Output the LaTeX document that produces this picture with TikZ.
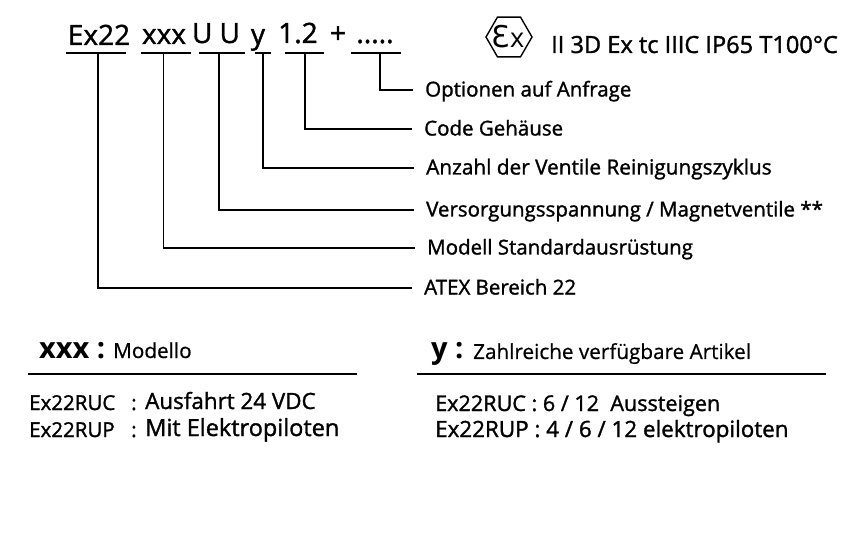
\documentclass[tikz,border=0pt]{standalone}
\usepackage{fontspec}
\setmainfont{Open Sans}
\newfontfamily\semifont[FakeBold=1.4]{Open Sans}
\newfontfamily\softfont[FakeBold=0.6]{Open Sans}
\newfontfamily\markfont{DejaVu Sans}
\usetikzlibrary{shapes.geometric}
\tikzset{
  token/.style={anchor=base,inner sep=0pt,font=\fontsize{28}{28}\semifont},
  callout/.style={anchor=west,inner sep=0pt,text height=17pt,text depth=4pt,font=\fontsize{20.5}{20.5}\semifont},
  entry/.style={anchor=base west,inner sep=0pt,font=\fontsize{20.5}{20.5}\semifont},
  entrybig/.style={anchor=base west,inner sep=0pt,font=\fontsize{22.4}{22.4}\semifont},
  head/.style={anchor=base west,inner sep=0pt,font=\fontsize{29}{29}\bfseries},
  subhead/.style={anchor=base west,inner sep=0pt,font=\fontsize{20.7}{20.7}\softfont},
  rule/.style={line width=1.6pt},
  lead/.style={line width=1.6pt,shorten >=12pt}
}
\begin{document}
\begin{tikzpicture}[x=1pt,y=-1pt]
  \useasboundingbox (0,0) rectangle (860,540);
  % code line
  \node[token] (ex) at (99,45) {Ex22};
  \node[token] (xxx) at (164,44) {xxx};
  \node[token] (uu) at (216,43) {U U};
  \node[token] (y) at (258,44) {y};
  \node[token] (num) at (298,43) {1.2};
  \node[token] (plus) at (338,43) {+};
  \node[token] (dots) at (375,43) {.....};
  % bars under the code
  \coordinate (exA) at (66,53);  \coordinate (exB) at (126,53);
  \coordinate (xxxA) at (141,53); \coordinate (xxxB) at (191,53);
  \coordinate (uuA) at (199,53);  \coordinate (uuB) at (245,53);
  \coordinate (yA) at (255,53);   \coordinate (yB) at (271,53);
  \coordinate (numA) at (285,53); \coordinate (numB) at (324,53);
  \coordinate (dotsA) at (351,53); \coordinate (dotsB) at (401,53);
  \coordinate (exT) at (98,53);
  \coordinate (xxxT) at (163.5,53);
  \coordinate (uuT) at (219,53);
  \coordinate (yT) at (263,53);
  \coordinate (numT) at (305,53);
  \coordinate (dotsT) at (380,53);
  \begin{scope}[rule]
    \draw (exA) -- (exB);
    \draw (xxxA) -- (xxxB);
    \draw (uuA) -- (uuB);
    \draw (yA) -- (yB);
    \draw (numA) -- (numB);
    \draw (dotsA) -- (dotsB);
  \end{scope}
  % explanations
  \node[callout] (opt) at (425,90) {Optionen auf Anfrage};
  \node[callout] (code) at (424,129) {Code Gehäuse};
  \node[callout,font=\fontsize{20.8}{20.8}\semifont] (count) at (426,168) {Anzahl der Ventile Reinigungszyklus};
  \node[callout] (volt) at (426,210) {Versorgungsspannung / Magnetventile **};
  \node[callout] (model) at (427,248) {Modell Standardausrüstung};
  \node[callout] (atex) at (424,288) {ATEX Bereich 22};
  \begin{scope}[lead]
    \draw (dotsT) |- (opt.west);
    \draw (numT) |- (code.west);
    \draw (yT) |- (count.west);
    \draw (uuT) |- (volt.west);
    \draw (xxxT) |- (model.west);
    \draw (exT) |- (atex.west);
  \end{scope}
  % marking
  \node[regular polygon,regular polygon sides=6,draw,line width=1.4pt,minimum size=46pt,inner sep=0pt] (hex) at (509,37) {};
  \node[inner sep=0pt,font=\fontsize{27}{27}\selectfont] (exmark) at (508,37) {{\fontsize{30}{30}\markfont Ɛ}x};
  \node[anchor=base west,inner sep=0pt,font=\fontsize{23.6}{23.6}\semifont] (mark) at (551,53) {II 3D Ex tc IIIC IP65 T100°C};
  % left table
  \node[head] (xxxhead) at (39,359) {xxx :};
  \node[subhead] (xxxsub) at (113,358) {Modello};
  \coordinate (ruleLA) at (28,374); \coordinate (ruleLB) at (357,374);
  \draw[rule] (ruleLA) -- (ruleLB);
  \node[entry] (ruc) at (29,410) {Ex22RUC};
  \node[entry] (rup) at (29,437) {Ex22RUP};
  \node[entry] (rucsep) at (131,410) {:};
  \node[entry] (rupsep) at (131,437) {:};
  \node[entrybig] (ruct) at (145,409) {Ausfahrt 24 VDC};
  \node[entrybig,font=\fontsize{23.5}{23.5}\semifont] (rupt) at (145,436) {Mit Elektropiloten};
  % right table
  \node[head] (yhead) at (431,358) {y :};
  \node[subhead] (ysub) at (473,359) {Zahlreiche verfügbare Artikel};
  \coordinate (ruleRA) at (417,374); \coordinate (ruleRB) at (826,374);
  \draw[rule] (ruleRA) -- (ruleRB);
  \node[entrybig,font=\fontsize{21.6}{21.6}\semifont] (rucr) at (435,411) {Ex22RUC : 6 / 12\ \ Aussteigen};
  \node[entrybig] (rupr) at (435,437) {Ex22RUP : 4 / 6 / 12 elektropiloten};
\end{tikzpicture}
\end{document}
